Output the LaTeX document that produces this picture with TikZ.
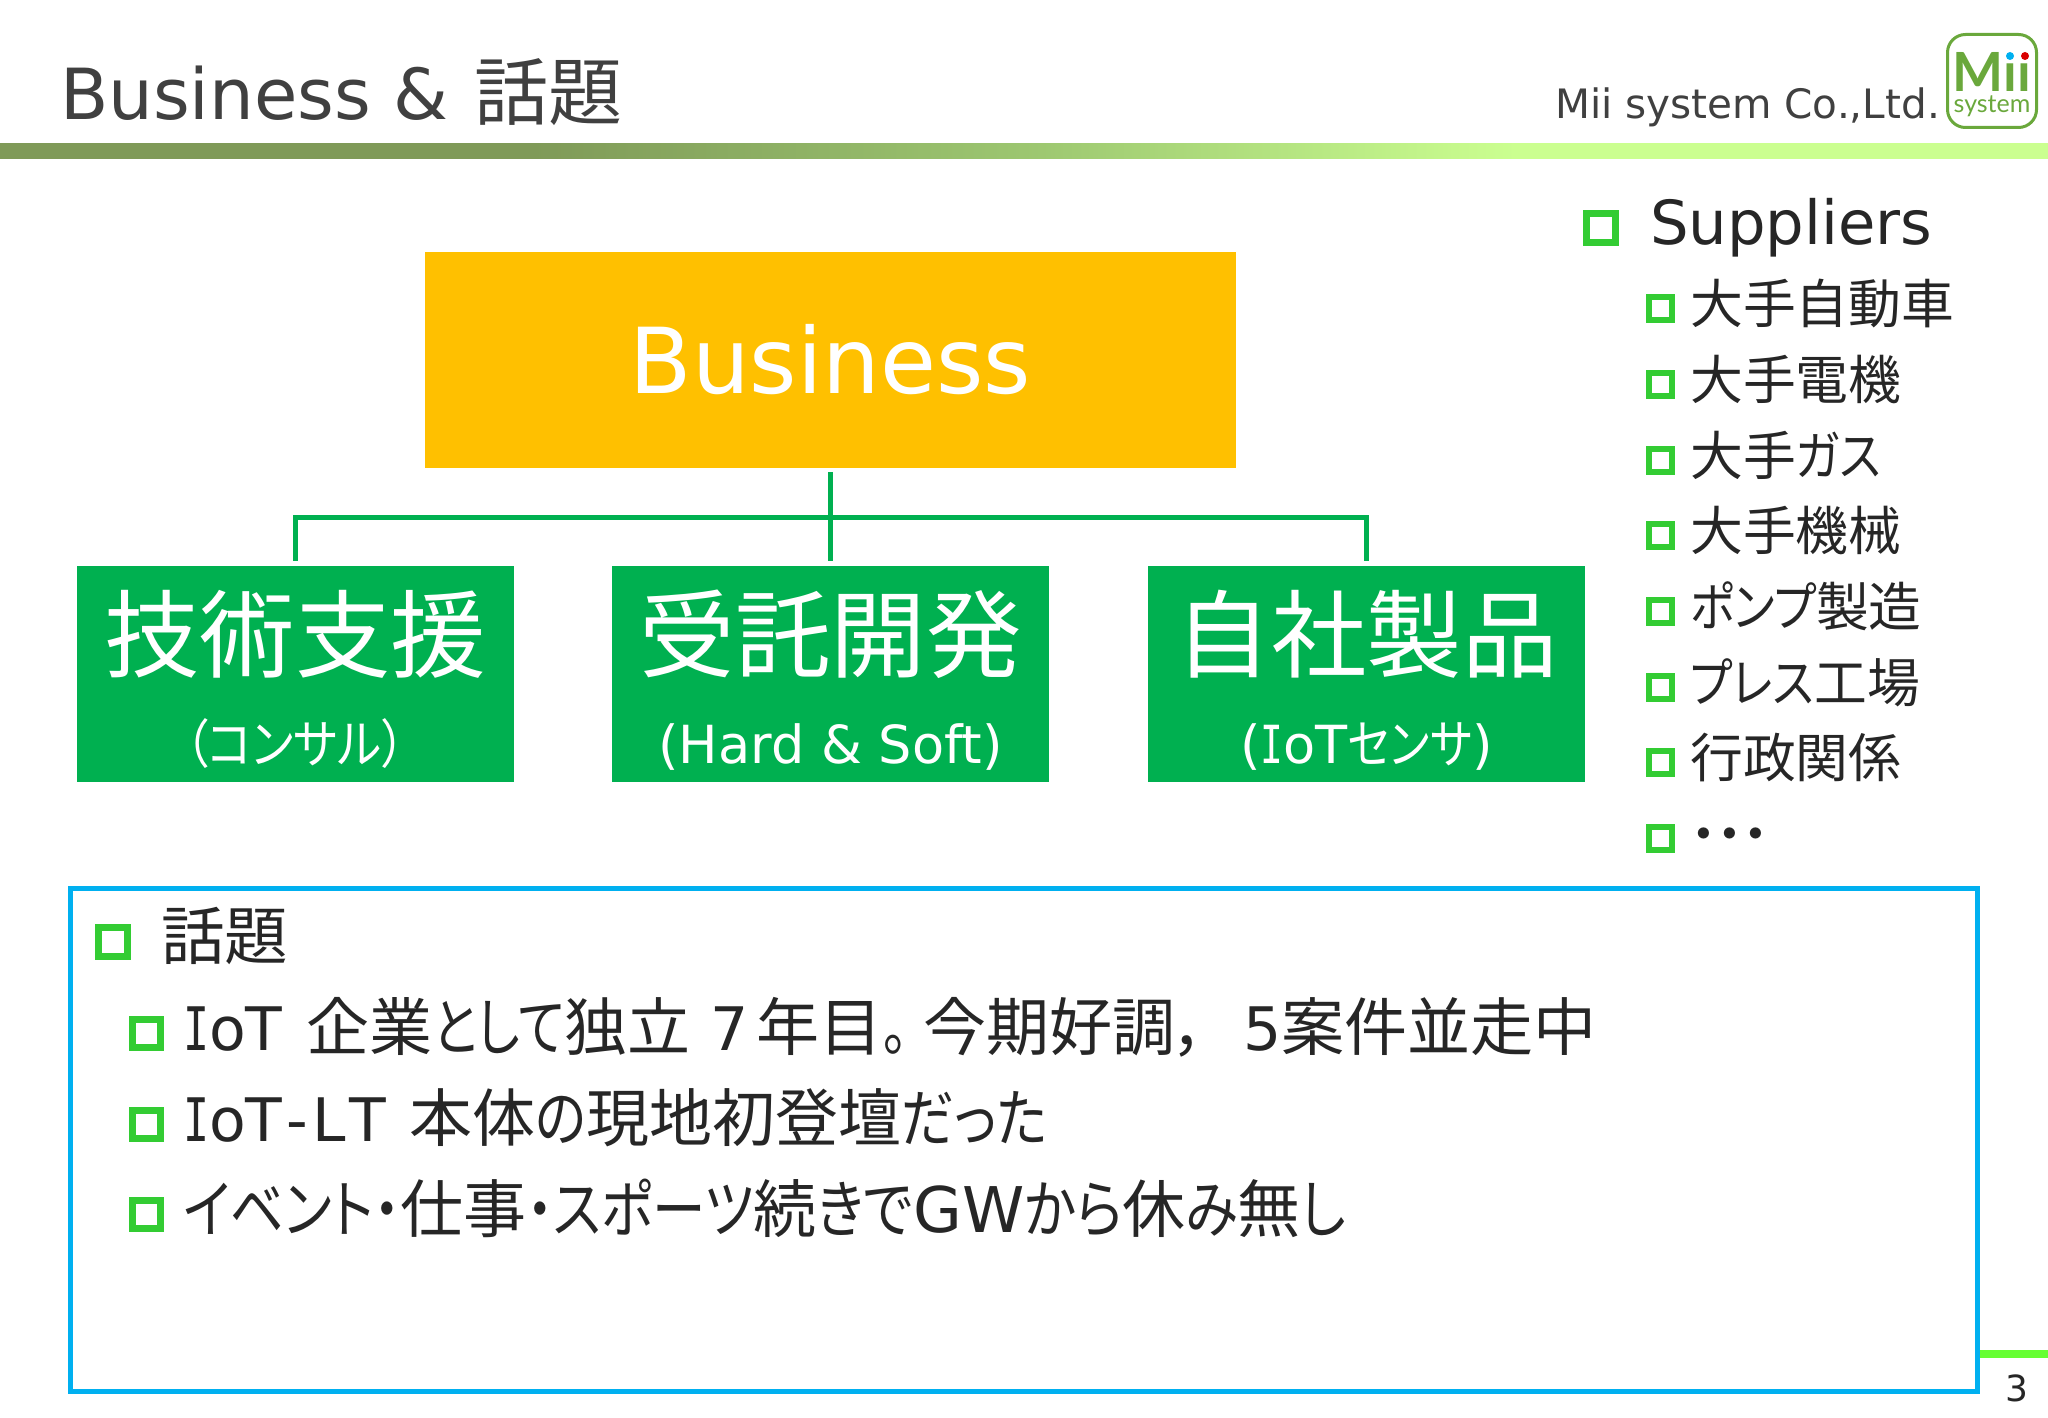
\documentclass[tikz,border=0pt]{standalone}
\usepackage{fontspec}
\setmainfont{DejaVu Sans}
\newfontfamily\jf[RawFeature=+palt]{Noto Sans CJK JP}
\newfontfamily\monof{DejaVu Sans Mono}
\newfontfamily\logof{Lato}
\usetikzlibrary{positioning,arrows.meta}
\definecolor{barleft}{HTML}{7F9A58}
\definecolor{barmid}{HTML}{9CC670}
\definecolor{barright}{HTML}{CBFF90}
\definecolor{goldbox}{HTML}{FFC000}
\definecolor{greenbox}{HTML}{00B050}
\definecolor{bluebox}{HTML}{00B0F0}
\definecolor{bulletgreen}{HTML}{33CC33}
\definecolor{logogreen}{HTML}{6AA83C}
\definecolor{rulegreen}{HTML}{66FF33}
\definecolor{inktext}{HTML}{262626}
\definecolor{greytext}{HTML}{404040}
\pgfdeclarehorizontalshading{barshade}{100bp}{color(0bp)=(barleft); color(38bp)=(barleft); color(50bp)=(barmid); color(62bp)=(barright); color(100bp)=(barright)}
\newcommand{\kn}[2][0.8]{\scalebox{#1}[1]{#2}}
\newcommand{\serI}{\scalebox{0.72}[1]{\monof I}}
\newcommand{\bigjf}{\jf\fontsize{63}{63}\selectfont}
\tikzset{
	fs/.style={font=\fontsize{#1}{#1}\selectfont},
	headbox/.style={fill=goldbox,inner sep=0pt,text=white,minimum width=811pt,minimum height=216pt,fs=91},
	subbox/.style={fill=greenbox,inner sep=0pt,minimum width=437pt,minimum height=216pt},
	boxtitle/.style={text=white,inner sep=0pt,anchor=base,fs=95.5},
	boxnote/.style={text=white,inner sep=0pt,anchor=base,fs=52.5},
	link/.style={draw=greenbox,line width=5pt,shorten >=5pt},
	bigbullet/.style={draw=bulletgreen,line width=7pt,fill=white,inner sep=0pt,minimum size=29pt},
	smallbullet/.style={draw=bulletgreen,line width=6pt,fill=white,inner sep=0pt,minimum size=23pt},
	topbullet/.style={draw=bulletgreen,line width=7pt,fill=white,inner sep=0pt,minimum size=28pt},
	listtext/.style={text=inktext,inner sep=0pt,anchor=base west,fs=52.8},
	toptext/.style={text=inktext,inner sep=0pt,anchor=base west,fs=60},
}
\begin{document}
\begin{tikzpicture}[x=1pt,y=-1pt]
	\useasboundingbox (0,0) rectangle (2048,1418);
	\shade[shading=barshade] (0,144) rectangle (2048,159);
	\node[text=greytext,inner sep=0pt,anchor=base west,fs=70.5] (title) at (60,120) {Business \&\hspace{4pt} {\jf\fontsize{74}{74}\selectfont 話題}};
	\node[text=greytext,inner sep=0pt,anchor=base east,fs=40.5] (company) at (1940,119) {Mii system Co.,Ltd.};

	\node[draw=logogreen,line width=3pt,rounded corners=18pt,inner sep=0pt,minimum width=89pt,minimum height=93pt] (logo) at (1992,81) {};
	\node[text=logogreen,inner sep=0pt,anchor=base,font=\logof\bfseries\fontsize{54}{54}\selectfont] (logomii) at (1992,92) {Mıı};
	\node[text=logogreen,inner sep=0pt,anchor=base,font=\logof\fontsize{25}{25}\selectfont] (logosys) at (1992,113) {system};
	\node[fill=bluebox,circle,inner sep=0pt,minimum size=8pt] (dotblue) at (2010,56) {};
	\node[fill=red!85!black,circle,inner sep=0pt,minimum size=8pt] (dotred) at (2025,56) {};

	\node[headbox] (business) at (830.5,360) {Business};
	\node[subbox] (gijutsu) at (295,674) {};
	\node[subbox] (jutaku) at (830.5,674) {};
	\node[subbox] (jisha) at (1366.5,674) {};
	\coordinate (fork) at (830.5,517);
	\draw[link,shorten <=4pt] (business.south) -- (jutaku.north);
	\draw[link] (fork) -| (gijutsu.north);
	\draw[link] (fork) -| (jisha.north);

	\node[boxtitle] (gijutsutitle) at (295,670) {\jf 技術支援};
	\node[boxnote] (gijutsunote) at (295,763) {\jf \kn[0.89]{（コンサル）}};
	\node[boxtitle] (jutakutitle) at (830.5,670) {\jf 受託開発};
	\node[boxnote] (jutakunote) at (830.5,763) {(Hard \& Soft)};
	\node[boxtitle] (jishatitle) at (1366.5,670) {\jf 自社製品};
	\node[boxnote] (jishanote) at (1366.5,763) {(\serI oT{\jf \kn[0.85]{センサ}})};

	\node[bigbullet] (supbullet) at (1600.5,227.5) {};
	\node[text=inktext,inner sep=0pt,anchor=base west,fs=60.8] (suppliers) at (1650,244) {Suppliers};

	\node[smallbullet] (b1) at (1660.5,308) {};
	\node[listtext] (s1) at (1690,323) {\jf 大手自動車};
	\node[smallbullet] (b2) at (1660.5,384) {};
	\node[listtext] (s2) at (1690,399) {\jf 大手電機};
	\node[smallbullet] (b3) at (1660.5,460) {};
	\node[listtext] (s3) at (1690,475) {\jf 大手\kn[0.87]{ガス}};
	\node[smallbullet] (b4) at (1660.5,535) {};
	\node[listtext] (s4) at (1690,550) {\jf 大手機械};
	\node[smallbullet] (b5) at (1660.5,611) {};
	\node[listtext] (s5) at (1690,626) {\jf \kn[0.87]{ポンプ}製造};
	\node[smallbullet] (b6) at (1660.5,687) {};
	\node[listtext] (s6) at (1690,702) {\jf \kn[0.87]{プレス}工場};
	\node[smallbullet] (b7) at (1660.5,762) {};
	\node[listtext] (s7) at (1690,777) {\jf 行政関係};
	\node[smallbullet] (b8) at (1660.5,838) {};
	\node[listtext] (s8) at (1690,853) {\jf ・・・};

	\node[draw=bluebox,line width=5pt,inner sep=0pt,minimum width=1907pt,minimum height=503pt] (topicbox) at (1023.5,1139.5) {};
	\node[text=inktext,inner sep=0pt,fs=36] (pagenum) at (2017,1388) {3};
	\coordinate (ruleend) at (2048,1354);
	\draw[draw=rulegreen,line width=8pt] (topicbox.east |- ruleend) -- (ruleend);

	\node[bigbullet] (topicbullet) at (113,942) {};
	\node[toptext] (toph) at (161,959) {\jf\fontsize{63.5}{63.5}\selectfont 話題};
	\node[topbullet] (t1) at (146,1033) {};
	\node[toptext] (l1) at (183,1050) {\serI oT\hspace{24pt}{\bigjf 企業\kn{として}独立}\hspace{20pt}7\hspace{8pt}{\bigjf 年目\kn{。}\hspace{16pt}今期好調，}\hspace{36pt}5{\bigjf 案件並走中}};
	\node[topbullet] (t2) at (146,1124) {};
	\node[toptext] (l2) at (183,1141) {\serI oT\hspace{4pt}-\hspace{4pt}L\hspace{4pt}T\hspace{23pt}{\bigjf 本体\kn[0.84]{の}現地初登壇\kn[0.84]{だった}}};
	\node[topbullet] (t3) at (146,1214) {};
	\node[toptext] (l3) at (183,1232) {{\bigjf \kn[0.85]{イベント・}仕事\kn[0.85]{・スポーツ}続\kn[0.85]{きで}}{\fontsize{63}{63}\selectfont GW}{\bigjf \kn[0.85]{から}休\kn[0.85]{み}無\kn[0.85]{し}}};
\end{tikzpicture}
\end{document}
